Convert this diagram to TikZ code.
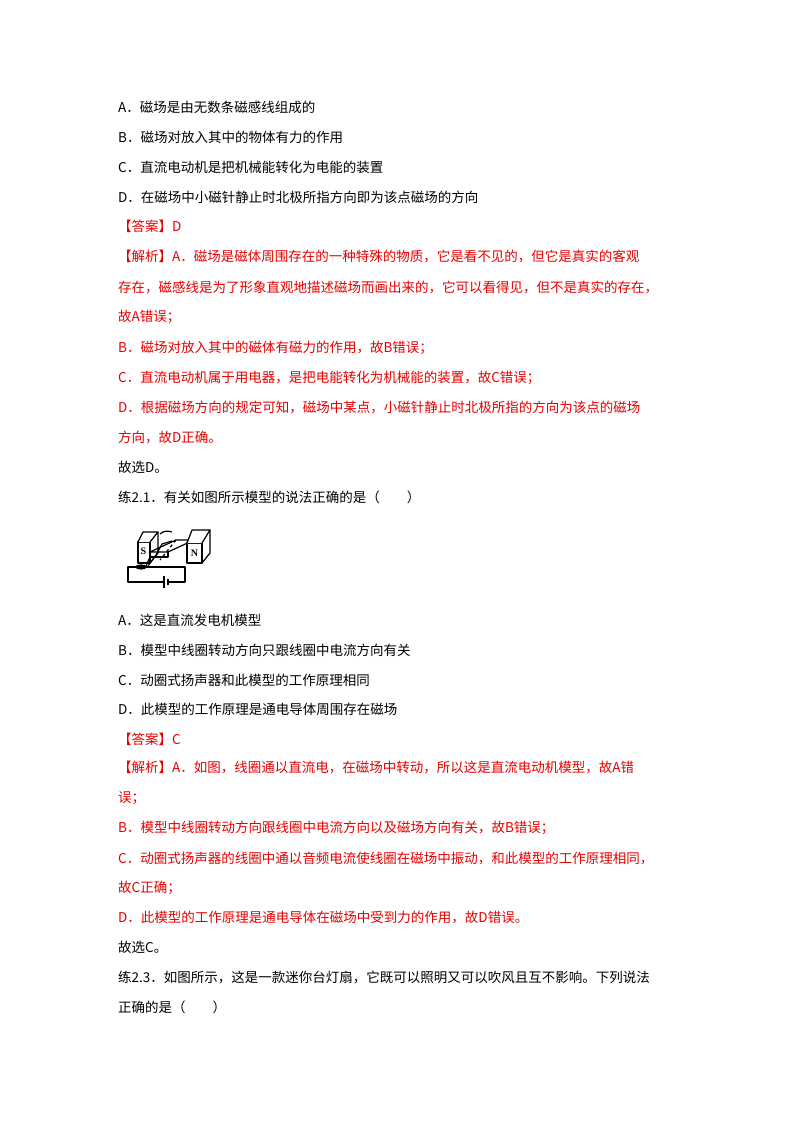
\documentclass[tikz,border=0pt]{standalone}
\usepackage{fontspec}
\setmainfont{Liberation Serif}
\newfontfamily\cjk{Noto Sans CJK SC}
\definecolor{ansred}{RGB}{230,0,0}
\tikzset{
  txt/.style={anchor=west, inner sep=0pt, font=\cjk\fontsize{13.5}{14}\selectfont},
  ans/.style={txt, text=ansred},
  part/.style={draw=black, line width=1.2pt, line join=round}
}
\begin{document}
\begin{tikzpicture}[x=1pt, y=-1pt]
  \useasboundingbox (0,0) rectangle (800,1132);

  % first question
  \node[txt] (qa) at (118,107) {A．磁场是由无数条磁感线组成的};
  \node[txt] (qb) at (118,137) {B．磁场对放入其中的物体有力的作用};
  \node[txt] (qc) at (118,167) {C．直流电动机是把机械能转化为电能的装置};
  \node[txt] (qd) at (118,197) {D．在磁场中小磁针静止时北极所指方向即为该点磁场的方向};
  \node[ans] (k1) at (118,226) {【答案】D};
  \node[ans] (j1) at (118,256) {【解析】A．磁场是磁体周围存在的一种特殊的物质，它是看不见的，但它是真实的客观};
  \node[ans] (j2) at (118,288) {存在，磁感线是为了形象直观地描述磁场而画出来的，它可以看得见，但不是真实的存在，};
  \node[ans] (j3) at (118,317) {故A错误；};
  \node[ans] (j4) at (118,348) {B．磁场对放入其中的磁体有磁力的作用，故B错误；};
  \node[ans] (j5) at (118,378) {C．直流电动机属于用电器，是把电能转化为机械能的装置，故C错误；};
  \node[ans] (j6) at (118,408) {D．根据磁场方向的规定可知，磁场中某点，小磁针静止时北极所指的方向为该点的磁场};
  \node[ans] (j7) at (118,438) {方向，故D正确。};
  \node[txt] (x1) at (118,467) {故选D。};
  \node[txt] (t2) at (118,497) {练2.1．有关如图所示模型的说法正确的是（\quad\quad）};

  % small motor figure
  \draw[part] (128,567) rectangle (185,582);
  \draw[part, fill=white] (164,576) -- (164,588);
  \draw[part, line width=1.8pt] (168,579) -- (168,585);
  \fill[white] (165,581) rectangle (167.2,583);
  \draw[part, fill=white] (138,542) -- (150,542) -- (150,563) -- (138,563) -- cycle;
  \draw[part, fill=white] (138,542) -- (143,532) -- (158,532) -- (150,542);
  \draw[part] (150,563) -- (158,553) -- (158,532);
  \node[inner sep=0pt, font=\bfseries\fontsize{10}{10}\selectfont] (sp) at (143.5,551) {S};
  \draw[part] (150,552) -- (176,540) -- (194,540) -- (168,552) -- cycle;
  \draw[part] (168,552) -- (168,557) -- (150,557);
  \draw[part] (172,541) -- (162,544) -- (156,555) -- (148,566);
  \draw[part, dashed] (176,540) -- (160,560);
  \draw[part] (150,557) -- (146,566);
  \draw[part, fill=black] (141,567) ellipse (5pt and 2pt);
  \draw[part] (160,534) to[bend left] (172,532);
  \draw[part, fill=white] (187,543) -- (202,543) -- (202,563) -- (187,563) -- cycle;
  \draw[part, fill=white] (187,543) -- (192,530) -- (210,530) -- (202,543);
  \draw[part] (202,563) -- (210,553) -- (210,530);
  \node[inner sep=0pt, font=\bfseries\fontsize{10}{10}\selectfont] (np) at (194.5,553) {N};

  % second question
  \node[txt] (pa) at (118,620) {A．这是直流发电机模型};
  \node[txt] (pb) at (118,650) {B．模型中线圈转动方向只跟线圈中电流方向有关};
  \node[txt] (pc) at (118,680) {C．动圈式扬声器和此模型的工作原理相同};
  \node[txt] (pd) at (118,709) {D．此模型的工作原理是通电导体周围存在磁场};
  \node[ans] (k2) at (118,739) {【答案】C};
  \node[ans] (m1) at (118,768) {【解析】A．如图，线圈通以直流电，在磁场中转动，所以这是直流电动机模型，故A错};
  \node[ans] (m2) at (118,798) {误；};
  \node[ans] (m3) at (118,828) {B．模型中线圈转动方向跟线圈中电流方向以及磁场方向有关，故B错误；};
  \node[ans] (m4) at (118,858) {C．动圈式扬声器的线圈中通以音频电流使线圈在磁场中振动，和此模型的工作原理相同，};
  \node[ans] (m5) at (118,888) {故C正确；};
  \node[ans] (m6) at (118,918) {D．此模型的工作原理是通电导体在磁场中受到力的作用，故D错误。};
  \node[txt] (x2) at (118,947) {故选C。};
  \node[txt] (t3) at (118,977) {练2.3．如图所示，这是一款迷你台灯扇，它既可以照明又可以吹风且互不影响。下列说法};
  \node[txt] (t4) at (118,1007) {正确的是（\quad\quad）};
\end{tikzpicture}
\end{document}
